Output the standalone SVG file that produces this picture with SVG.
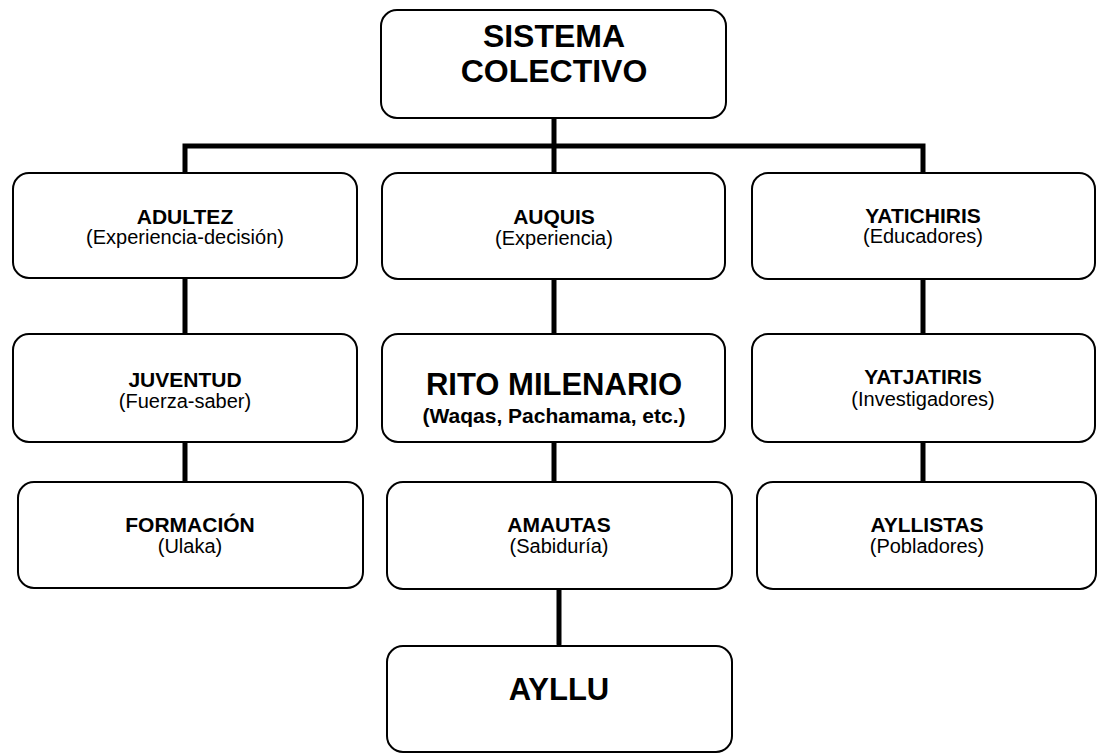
<svg xmlns="http://www.w3.org/2000/svg" width="1098" height="754" viewBox="0 0 1098 754">
<style>
.box{fill:#fff;stroke:#000;stroke-width:2}
.con{fill:none;stroke:#000;stroke-width:5}
text{font-family:"Liberation Sans",Arial,sans-serif;fill:#000;text-anchor:middle}
.t{font-weight:bold;font-size:21px}
.s{font-size:20px}
.big{font-weight:bold;font-size:32px}
</style>
<rect width="1098" height="754" fill="#fff"/>
<g id="connectors">
<path class="con" d="M185 173 V146 H923 V173"/>
<path class="con" d="M554 118 V173"/>
<path class="con" d="M185 278 V334 M185 442 V482"/>
<path class="con" d="M554 279 V334 M554 442 V482"/>
<path class="con" stroke-linecap="round" d="M559 589 V644"/>
<path class="con" d="M923 279 V334 M923 442 V482"/>
</g>
<g id="sistema">
<rect class="box" x="381" y="10" width="345" height="108" rx="16"/>
<text class="big" x="554" y="47">SISTEMA</text>
<text class="big" x="554" y="82">COLECTIVO</text>
</g>
<g id="adultez">
<rect class="box" x="13" y="173" width="344" height="105" rx="16"/>
<text class="t" x="185" y="224">ADULTEZ</text>
<text class="s" x="185" y="244">(Experiencia-decisión)</text>
</g>
<g id="auquis">
<rect class="box" x="382" y="173" width="343" height="106" rx="16"/>
<text class="t" x="554" y="224">AUQUIS</text>
<text class="s" x="554" y="245">(Experiencia)</text>
</g>
<g id="yatichiris">
<rect class="box" x="752" y="173" width="343" height="106" rx="16"/>
<text class="t" x="923" y="223">YATICHIRIS</text>
<text class="s" x="923" y="243">(Educadores)</text>
</g>
<g id="juventud">
<rect class="box" x="13" y="334" width="344" height="108" rx="16"/>
<text class="t" x="185" y="387">JUVENTUD</text>
<text class="s" x="185" y="408">(Fuerza-saber)</text>
</g>
<g id="rito">
<rect class="box" x="382" y="334" width="343" height="108" rx="16"/>
<text x="554" y="395" style="font-weight:bold;font-size:31px">RITO MILENARIO</text>
<text x="554" y="423" style="font-weight:bold;font-size:21px">(Waqas, Pachamama, etc.)</text>
</g>
<g id="yatjatiris">
<rect class="box" x="752" y="334" width="343" height="108" rx="16"/>
<text class="t" x="923" y="384">YATJATIRIS</text>
<text class="s" x="923" y="406">(Investigadores)</text>
</g>
<g id="formacion">
<rect class="box" x="18" y="482" width="345" height="106" rx="16"/>
<text class="t" x="190" y="532">FORMACIÓN</text>
<text class="s" x="190" y="553">(Ulaka)</text>
</g>
<g id="amautas">
<rect class="box" x="387" y="482" width="345" height="107" rx="16"/>
<text class="t" x="559" y="532">AMAUTAS</text>
<text class="s" x="559" y="553">(Sabiduría)</text>
</g>
<g id="ayllistas">
<rect class="box" x="757" y="482" width="339" height="107" rx="16"/>
<text class="t" x="927" y="532">AYLLISTAS</text>
<text class="s" x="927" y="553">(Pobladores)</text>
</g>
<g id="ayllu">
<rect class="box" x="387" y="646" width="345" height="106" rx="16"/>
<text x="559" y="700" style="font-weight:bold;font-size:31px">AYLLU</text>
</g>
</svg>
